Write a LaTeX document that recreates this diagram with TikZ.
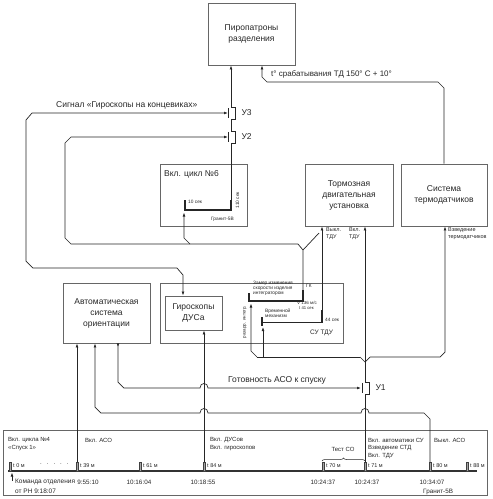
\documentclass[tikz,border=0pt]{standalone}
\usepackage{fontspec}
\setmainfont{Liberation Sans}
\usetikzlibrary{arrows.meta,decorations.pathreplacing}
\newcommand\uswitchsym[2]{%
  \begin{scope}[shift={(#1)}]
    \draw[wire] (0,-6) -- (4,-6) -- (4,6) -- (0,6);
    \draw[wire, line width=0.9pt] (-3,-5) -- (-3,5);
    \node[big, anchor=west] at (7,0) {#2};
  \end{scope}}
\begin{document}
\begin{tikzpicture}[x=1pt,y=-1pt,
  box/.style={draw=black!60, line width=0.8pt, inner sep=0pt},
  wire/.style={draw=black!85, line width=0.7pt},
  arr/.style={wire, -{Latex[length=4pt,width=2.8pt]}},
  big/.style={font=\fontsize{8.5}{11}\selectfont, text=black!85, align=center},
  mid/.style={font=\fontsize{6}{7.6}\selectfont, text=black!85, align=left, inner sep=0pt},
  sm/.style={font=\fontsize{4.8}{5.2}\selectfont, text=black!85, align=left, inner sep=0pt},
  tickbar/.style={draw=black!75, fill=black!35, line width=0.3pt},
  bar/.style={draw=black!85, line width=1.4pt},
]
\useasboundingbox (0,0) rectangle (493,499);

% ---------- boxes ----------
\node[box, big, minimum width=87pt, minimum height=62pt] (piro) at (251.5,34) {Пиропатроны\\разделения};
\node[box, minimum width=87pt, minimum height=62pt] (cyc) at (203.5,195) {};
\node[big, anchor=west, inner sep=0pt] (cyct) at (164,174) {Вкл. цикл №6};
\node[box, big, minimum width=88pt, minimum height=62pt] (tdu) at (349,195) {Тормозная\\двигательная\\установка};
\node[box, big, minimum width=86pt, minimum height=62pt] (term) at (444,195) {Система\\термодатчиков};
\node[box, big, minimum width=87pt, minimum height=60pt] (aso) at (106.5,313) {Автоматическая\\система\\ориентации};
\node[box, minimum width=183pt, minimum height=60pt] (sutdu) at (251.5,313) {};
\node[box, big, minimum width=57pt, minimum height=34pt] (gyro) at (193.5,313) {Гироскопы\\ДУСа};
\node[box, minimum width=484pt, minimum height=65pt] (tl) at (245,462.5) {};

% ---------- switches ----------
\coordinate (u3) at (231,113);
\coordinate (u2) at (231,137);
\coordinate (u1) at (365,388);
\uswitchsym{u3}{У3}
\uswitchsym{u2}{У2}
\uswitchsym{u1}{У1}

% ---------- main vertical to pyro ----------
\draw[arr] (231,107) -- (piro.south -| u3);
\draw[wire] (231,119) -- (231,131);
\draw[wire] (231,143) -- (231,210);

% cycle 6 tick
\draw[bar] (185,200) -- (185,210.5);
\draw[bar] (231,200) -- (231,210.5);
\draw[wire, line width=1.1pt] (185,210) -- (231,210);
\node[sm, anchor=west] (t10) at (188,202) {10 сек};
\node[sm, rotate=90] (t110) at (237.5,200) {110 сек};
\node[sm, anchor=east] (gr1) at (234,219) {Гранит-5В};

% ---------- thermo line ----------
\node[big, font=\fontsize{8}{10}\selectfont, anchor=west, inner sep=0pt] (tdlbl) at (271,74) {t° срабатывания ТД 150° С + 10°};
\draw[arr] (term.north -| 444,0) -- (444,88) -- (438,82) -- (267,82) -- (262,77) -- (piro.south -| 262,0);

% ---------- signal gyros -> U3 ----------
\node[big, anchor=west, inner sep=0pt] (siglbl) at (56,105) {Сигнал «Гироскопы на концевиках»};
\draw[{Latex[length=4pt,width=2.8pt]}-{Latex[length=4pt,width=2.8pt]}, wire] (gyro.north -| 183,0) -- (183,275) -- (177,268) -- (33,268) -- (26,261) -- (26,120) -- (32,113) -- (228,113);

% ---------- U2 loop ----------
\coordinate (gk) at (303,250);
\draw[arr] (303,290) -- (gk) -- (298,244) -- (71,244) -- (65,238) -- (65,143) -- (71,137) -- (228,137);
\draw[arr] (190,244) -- (184,238) -- (184,212.5);
\draw[wire] (gk) -- (319,233);

% ---------- TDU inputs ----------
\draw[arr] (322,310) -- (tdu.south -| 322,0);
\node[mid, font=\fontsize{5.5}{7}\selectfont] (vyk) at (326,234) [anchor=west] {Выкл.\\ТДУ};
\node[mid, font=\fontsize{5.5}{7}\selectfont] (vkl) at (349,234) [anchor=west] {Вкл.\\ТДУ};
\node[mid, font=\fontsize{5.5}{7}\selectfont] (vzv) at (448,234) [anchor=west] {Взведение\\термодатчиков};

% ---------- SU TDU internals ----------
\node[sm, anchor=north west] (zamer) at (253,281) {Замер изменения\\скорости изделия\\интегратором};
\node[sm, anchor=west] (gklbl) at (306,286) {ГК};
\draw[bar] (249,293) -- (249,302);
\draw[bar] (303,290) -- (303,301.5);
\draw[wire, line width=1.1pt] (249,301) -- (303,301);
\node[sm, anchor=west, font=\fontsize{4.5}{5}\selectfont] (v136) at (297,303) {V 136 м/с};
\node[sm, anchor=west, font=\fontsize{4.2}{5}\selectfont] (t41) at (299,308) {t 41 сек};
\node[sm, anchor=north west] (vrem) at (265,309) {Временной\\механизм};
\draw[bar] (262,317) -- (262,326);
\draw[bar] (322,310) -- (322,323);
\draw[wire, line width=1.6pt] (262,322.5) -- (322,322.5);
\node[sm, anchor=west] (t44) at (325,320) {44 сек};
\node[mid, font=\fontsize{6.5}{8}\selectfont, anchor=west] (sulbl) at (310,333) {СУ ТДУ};
\node[sm, rotate=90, font=\fontsize{4.5}{5}\selectfont] (razarr) at (245,322) {разарр. интегр.};

% ---------- timeline ----------
\draw[line width=1.4pt, black!80] (8,471) -- (477,471);
\foreach \x/\t in {10/{t 0 м},77/{t 39 м},140/{t 61 м},204/{t 84 м},323/{t 70 м},365/{t 71 м},430/{t 80 м},467/{t 88 м}}{
  \draw[tickbar] (\x-1.2,462) rectangle (\x+1.2,471);
  \node[mid, anchor=west, font=\fontsize{5.5}{6}\selectfont] at (\x+3,465.5) {\t};
}
\node[mid, anchor=west] (dots) at (40,464) {.\hspace{5pt}.\hspace{5pt}.\hspace{5pt}.\hspace{5pt}.};
\node[mid, anchor=west] (c4) at (8,440) {Вкл. цикла №4};
\node[mid, anchor=west] (c4b) at (8,448) {«Спуск 1»};
\node[mid, anchor=west] (aso1) at (85,440) {Вкл. АСО};
\node[mid, anchor=west] (dus) at (210,440) {Вкл. ДУСов};
\node[mid, anchor=west] (dus2) at (210,448) {Вкл. гироскопов};
\node[mid, anchor=center] (test) at (343,449.5) {Тест СО};
\draw[black!85, line width=0.5pt, decoration={brace, amplitude=3pt}, decorate] (322,461) -- (365,461);
\node[mid, anchor=west] (avt) at (368,440) {Вкл. автоматики СУ};
\node[mid, anchor=west] (avt2) at (368,448) {Взведение СТД};
\node[mid, anchor=west] (avt3) at (368,456) {Вкл. ТДУ};
\node[mid, anchor=west] (vasol) at (434,440) {Выкл. АСО};
\foreach \x/\t in {88/9:55:10,139/10:16:04,203/10:18:55,323/10:24:37,367/10:24:37,432/10:34:07}{
  \node[mid, anchor=center, font=\fontsize{6.3}{7}\selectfont] at (\x,482) {\t};
}
\node[mid, anchor=west, font=\fontsize{6.3}{7}\selectfont] (gr2) at (423,491.5) {Гранит-5В};
\node[mid, anchor=west, font=\fontsize{6.5}{9}\selectfont] (kom) at (15,482) {Команда отделения};
\node[mid, anchor=west, font=\fontsize{6.5}{9}\selectfont] (kom2) at (15,491.5) {от РН 9:18:07};
\coordinate (komarr) at (12,481);
\draw[arr] (komarr) -- (12,472.5);

% ---------- verticals from timeline ----------
\draw[arr] (77,462) -- (aso.south -| 77,0);
\draw[arr] (204,462) -- (gyro.south -| 204,0);
\draw[wire] (365,462) -- (365,394);
\draw[arr] (365,382) -- (tdu.south -| 365,0);
\draw[wire] (360,357) -- (365,362) -- (370,357);
\draw[arr] (370,357) -- (440,357) -- (445,352) -- (term.south -| 445,0);
\draw[wire] (360,357) -- (257,357);
\draw[arr] (257,357) -- (251,351) -- (251,303.5);
\draw[arr] (263,357) -- (263,327);

% ---------- readiness ----------
\node[big, anchor=west, inner sep=0pt] (gotlbl) at (228,380) {Готовность АСО к спуску};
\draw[{Latex[reversed,length=3.5pt,width=2.8pt]}-{Latex[length=4pt,width=2.8pt]}, wire] (aso.south -| 118,0) -- (118,382) -- (124,388) -- (200,388) .. controls (200,382) and (208,382) .. (208,388) -- (361,388);

% ---------- lower line ----------
\draw[arr] (430,462) -- (430,419) -- (424,413) -- (369,413) .. controls (369,407) and (361,407) .. (361,413) -- (208,413) .. controls (208,407) and (200,407) .. (200,413) -- (101,413) -- (95,407) -- (aso.south -| 95,0);
\end{tikzpicture}
\end{document}
